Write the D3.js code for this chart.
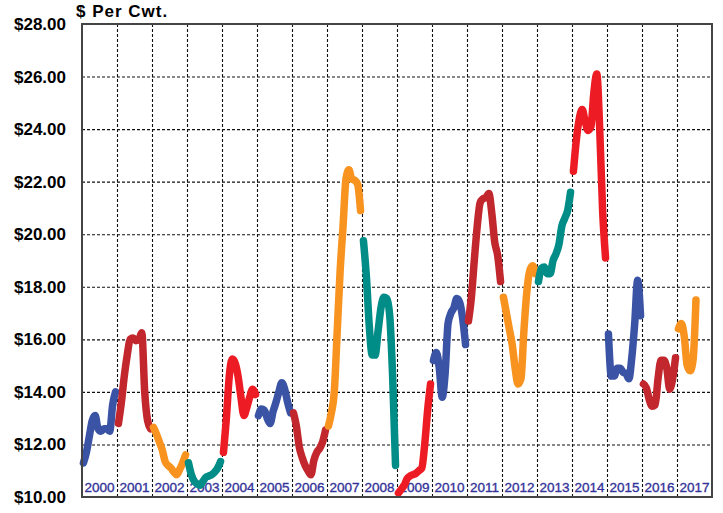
<!DOCTYPE html>
<html>
<head>
<meta charset="utf-8">
<script src="https://cdn.jsdelivr.net/npm/d3@7"></script>
<style>
  body { margin: 0; background: #fff; }
  svg { display: block; font-family: Arial, "Liberation Sans", sans-serif; }
  .grid line { stroke: #111; stroke-dasharray: 3,2; stroke-width: 1.1; }
  .grid path { display: none; }
</style>
</head>
<body>
<div id="chart"></div>
<script>
// Years on the x axis
var years = [2000, 2001, 2002, 2003, 2004, 2005, 2006, 2007, 2008, 2009,
             2010, 2011, 2012, 2013, 2014, 2015, 2016, 2017];

// Monthly prices, $ per cwt, one array per year
var p2000 = [11.3, 11.7, 12.3, 12.9, 13.1, 12.6, 12.5, 12.6, 12.6, 12.5, 13.5, 14.0];
var p2001 = [12.8, 13.6, 14.6, 15.4, 16.0, 16.05, 15.95, 16.0, 16.25, 14.0, 12.9, 12.6];
var p2002 = [12.65, 12.4, 12.1, 11.8, 11.35, 11.2, 11.1, 10.95, 10.85, 11.05, 11.3, 11.6];
var p2003 = [11.3, 10.85, 10.6, 10.5, 10.45, 10.6, 10.75, 10.8, 10.85, 10.95, 11.1, 11.35];
var p2004 = [11.7, 13.0, 14.6, 15.25, 15.1, 14.6, 13.8, 13.1, 13.4, 13.8, 14.1, 13.9];
var p2005 = [13.1, 13.35, 13.3, 13.0, 12.8, 13.25, 13.6, 14.0, 14.35, 14.1, 13.6, 13.2];
var p2006 = [13.2, 12.7, 11.9, 11.5, 11.2, 11.0, 10.85, 11.4, 11.7, 11.85, 12.1, 12.55];
var p2007 = [12.7, 13.2, 14.0, 16.3, 18.6, 20.3, 22.1, 22.45, 22.1, 22.05, 21.9, 20.9];
var p2008 = [19.75, 18.4, 16.5, 15.4, 15.4, 16.3, 17.2, 17.6, 17.55, 16.9, 14.6, 11.2];
var p2009 = [10.15, 10.3, 10.45, 10.7, 10.8, 10.85, 10.9, 11.0, 11.1, 12.0, 13.3, 14.3];
var p2010 = [15.2, 15.5, 14.9, 13.8, 14.7, 16.6, 17.0, 17.2, 17.55, 17.4, 16.8, 15.8];
var p2011 = [16.7, 17.6, 19.0, 20.3, 21.2, 21.35, 21.4, 21.55, 20.8, 19.7, 19.2, 18.2];
var p2012 = [17.6, 17.0, 16.4, 15.8, 14.9, 14.3, 14.5, 16.3, 17.8, 18.6, 18.8, 18.5];
var p2013 = [18.2, 18.7, 18.75, 18.5, 18.5, 19.0, 19.25, 19.6, 20.3, 20.6, 20.9, 21.6];
var p2014 = [22.4, 23.6, 24.4, 24.75, 24.3, 23.95, 24.1, 25.4, 26.1, 24.0, 20.9, 19.1];
var p2015 = [16.2, 14.6, 14.6, 14.9, 14.9, 14.75, 14.7, 14.5, 15.3, 16.6, 18.25, 16.9];
var p2016 = [14.3, 14.15, 13.7, 13.45, 13.5, 14.5, 15.2, 15.2, 14.9, 14.1, 14.5, 15.3];
var p2017 = [16.4, 16.6, 16.1, 15.0, 14.8, 15.2, 17.5];

var prices = [p2000, p2001, p2002, p2003, p2004, p2005, p2006, p2007, p2008,
              p2009, p2010, p2011, p2012, p2013, p2014, p2015, p2016, p2017];

// Y axis ticks
var yTicks = [10, 12, 14, 16, 18, 20, 22, 24, 26, 28];

// Chart dimensions
var width = 723,
    height = 513,
    plotLeft = 82, plotRight = 712, plotTop = 24, plotBottom = 497;

// Colours cycle every five years
var palette = ["#3A53A4", "#C1272D", "#F7931E", "#008C87", "#ED1C24"];

var svg = d3.select("#chart")
    .append("svg")
    .attr("width", width)
    .attr("height", height);

var x = d3.scaleLinear().domain([2000, 2018]).range([plotLeft, plotRight]);
var y = d3.scaleLinear().domain([10, 28]).range([plotBottom, plotTop]);

// Horizontal grid lines
svg.append("g")
    .attr("class", "grid")
    .attr("transform", "translate(" + plotLeft + ",0)")
    .call(d3.axisLeft(y).tickValues(yTicks.slice(1, -1)).tickSize(-(plotRight - plotLeft)).tickFormat(""));

// Vertical grid lines at year boundaries
svg.append("g")
    .attr("class", "grid")
    .attr("transform", "translate(0," + plotBottom + ")")
    .call(d3.axisBottom(x).tickValues(years.slice(1)).tickSize(-(plotBottom - plotTop)).tickFormat(""));

// Y axis labels
var yAxis = svg.append("g")
    .attr("transform", "translate(" + plotLeft + ",0)")
    .call(d3.axisLeft(y).tickValues(yTicks).tickSize(0).tickPadding(16)
        .tickFormat(function (d) { return "$" + d.toFixed(2); }));
yAxis.select(".domain").remove();
yAxis.selectAll("text")
    .style("font-size", "17px")
    .style("font-weight", "bold")
    .style("font-family", "Arial, 'Liberation Sans', sans-serif")
    .attr("fill", "#000");

// Title
svg.append("text")
    .attr("x", 76)
    .attr("y", 17)
    .style("font-size", "17px")
    .style("font-weight", "bold")
    .style("letter-spacing", "1px")
    .text("$ Per Cwt.");

// Year labels
svg.selectAll(".year-label")
    .data(years)
    .enter()
    .append("text")
    .attr("class", "year-label")
    .attr("x", function (d) { return x(d + 0.5); })
    .attr("y", 492)
    .attr("text-anchor", "middle")
    .attr("fill", "#333399")
    .attr("stroke", "#333399")
    .attr("stroke-width", 0.35)
    .style("font-size", "13.5px")
    .text(function (d) { return d; });

// One line per year
var line = d3.line()
    .x(function (d) { return x(d.t); })
    .y(function (d) { return y(d.v); })
    .curve(d3.curveMonotoneX);

prices.forEach(function (vals, i) {
    var pts = vals.map(function (v, m) { return { t: years[i] + (m + 0.5) / 12, v: v }; });
    svg.append("path")
        .datum(pts)
        .attr("d", line)
        .attr("fill", "none")
        .attr("stroke", palette[i % 5])
        .attr("stroke-width", 7.5)
        .attr("stroke-linecap", "round")
        .attr("stroke-linejoin", "round");
});

// Frame
svg.append("rect")
    .attr("x", plotLeft)
    .attr("y", plotTop)
    .attr("width", plotRight - plotLeft)
    .attr("height", plotBottom - plotTop)
    .attr("fill", "none")
    .attr("stroke", "#444")
    .attr("stroke-width", 2);
</script>
</body>
</html>
